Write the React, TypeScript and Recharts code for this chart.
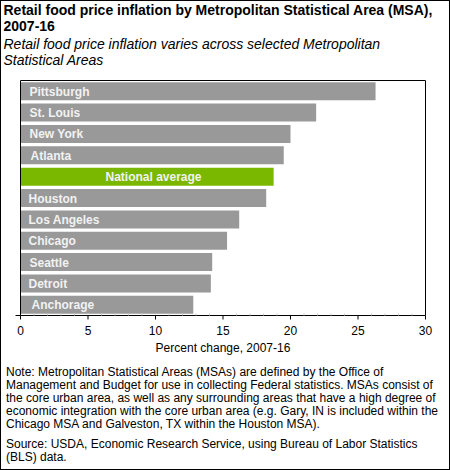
import { Bar, BarChart, Cell, LabelList, XAxis, YAxis } from "recharts";

const cities = ["Pittsburgh", "St. Louis", "New York", "Atlanta", "National average", "Houston", "Los Angeles", "Chicago", "Seattle", "Detroit", "Anchorage"];
const change = [26.3, 21.9, 20.0, 19.5, 18.75, 18.2, 16.2, 15.3, 14.2, 14.1, 12.8];
const xTicks = [0, 5, 10, 15, 20, 25, 30];
const minorTicks = Array.from({ length: 31 }, (_, i) => i);

const data = cities.map((name, i) => ({ name, change: change[i] }));

const FONT = '"Liberation Sans", Arial, sans-serif';
const GREY = "#999999";
const GREEN = "#7ab800";

// labels in the original sit a pixel or so off from each other
const labelInset: Record<string, number> = {
  Pittsburgh: 9, "St. Louis": 9, "New York": 9, Atlanta: 10, "National average": 85,
  Houston: 8, "Los Angeles": 8, Chicago: 8, Seattle: 9, Detroit: 8, Anchorage: 11,
};

function BarLabel({ x, y, height, index }: any) {
  const name = cities[index];
  return (
    <text x={x + labelInset[name]} y={y + height / 2 + 4.5} fill="#f2f2f2" fontSize={12} fontWeight="bold" fontFamily={FONT}>
      {name}
    </text>
  );
}

function BottomTick({ x, y, payload }: any) {
  const major = xTicks.includes(payload.value);
  return (
    <g>
      {major ? <line x1={x} x2={x} y1={y} y2={y + 4} stroke="#000" /> : <line x1={x} x2={x} y1={y - 2} y2={y} stroke="#c8c8c8" />}
      {payload.value === 0 && <line x1={x - 5} x2={x} y1={y} y2={y} stroke="#000" />}
      {major && (
        <text x={x} y={y + 19} textAnchor="middle" fontSize={12} fontFamily={FONT} fill="#000">
          {payload.value}
        </text>
      )}
    </g>
  );
}

function TopTick({ x, y }: any) {
  return <line x1={x - 5} x2={x} y1={y} y2={y} stroke="#000" />;
}

export default function App() {
  return (
    <div style={{ position: "absolute", left: 0, top: 0, width: 450, height: 470, boxSizing: "border-box", border: "1.5px solid #000", background: "#fff", fontFamily: FONT, color: "#000", overflow: "hidden" }}>
      <div style={{ position: "absolute", left: 2.5, top: 0.5, width: 440, fontSize: 14, fontWeight: "bold", lineHeight: "16px" }}>
        Retail food price inflation by Metropolitan Statistical Area (MSA), 2007-16
      </div>
      <div style={{ position: "absolute", left: 2.5, top: 34.5, width: 410, fontSize: 14, fontStyle: "italic", lineHeight: "16px" }}>
        Retail food price inflation varies across selected Metropolitan Statistical Areas
      </div>
      <div style={{ position: "absolute", left: -1.5, top: -1.5 }}>
        <BarChart layout="vertical" width={450} height={360} data={data} margin={{ top: 79.5, right: 23.5, bottom: 0, left: 19.5 }} barCategoryGap="8%">
          <XAxis xAxisId="top" orientation="top" type="number" domain={[0, 30]} ticks={[0]} height={1} axisLine={{ stroke: "#000" }} tickLine={false} tickSize={0} tickMargin={0} tick={<TopTick />} />
          <XAxis
            type="number"
            domain={[0, 30]}
            ticks={minorTicks}
            interval={0}
            height={44.5}
            axisLine={{ stroke: "#000" }}
            tickLine={false}
            tickSize={0}
            tickMargin={0}
            tick={<BottomTick />}
            label={{ value: "Percent change, 2007-16", position: "insideBottom", offset: 8, fontSize: 12, fontFamily: FONT, fill: "#000" }}
          />
          <YAxis type="category" dataKey="name" width={1} axisLine={{ stroke: "#000" }} tickLine={false} tick={false} />
          <YAxis yAxisId="right" orientation="right" type="category" dataKey="name" width={1} axisLine={{ stroke: "#000" }} tickLine={false} tick={false} />
          <Bar dataKey="change" isAnimationActive={false} fill={GREY}>
            {data.map((d) => (
              <Cell key={d.name} fill={d.name === "National average" ? GREEN : GREY} />
            ))}
            <LabelList dataKey="name" content={<BarLabel />} />
          </Bar>
        </BarChart>
      </div>
      <div style={{ position: "absolute", left: 5, top: 364.5, width: 436, fontSize: 12, lineHeight: "13.2px" }}>
        Note: Metropolitan Statistical Areas (MSAs) are defined by the Office of Management and Budget for use in collecting Federal statistics. MSAs consist of the core urban area, as well as any surrounding areas that have a high degree of economic integration with the core urban area (e.g. Gary, IN is included within the Chicago MSA and Galveston, TX within the Houston MSA).
      </div>
      <div style={{ position: "absolute", left: 5, top: 437, width: 420, fontSize: 12, lineHeight: "13.2px" }}>
        Source: USDA, Economic Research Service, using Bureau of Labor Statistics (BLS) data.
      </div>
    </div>
  );
}
